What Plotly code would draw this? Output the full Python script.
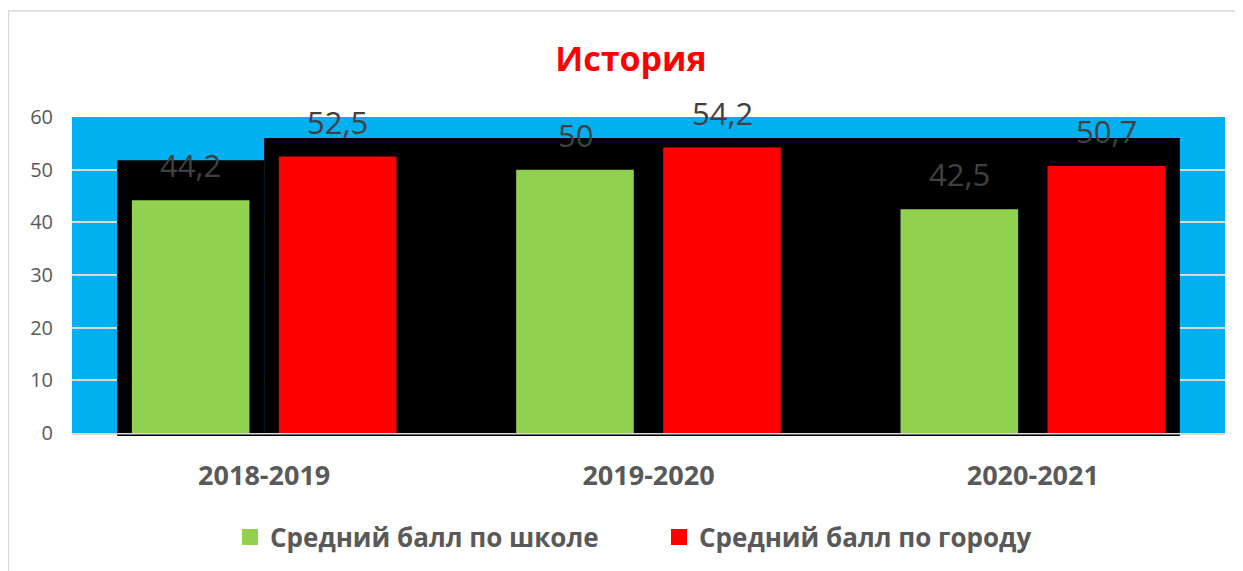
import plotly.graph_objects as go

# ---------------- data ----------------
categories = ["2018-2019", "2019-2020", "2020-2021"]
school_scores = [44.2, 50, 42.5]
city_scores = [52.5, 54.2, 50.7]
series_names = ["Средний балл по школе", "Средний балл по городу"]
title_text = "История"
y_ticks = [0, 10, 20, 30, 40, 50, 60]

# decorative black backdrop behind bars (left part level, right part level)
backdrop_levels = [51.8, 56.0]

# ---------------- styles ----------------
FONT = "Open Sans"
GREEN = "#92D050"
RED = "#FF0000"
BLUE = "#00B0F0"
GRID = "#D9D9D9"
TXT = "#595959"
LBL = "#404040"

# page body has an 8px margin, so the figure is drawn 8px smaller / offset
PAD = 8
W, H = 1243 - PAD, 571 - PAD
ML, MT = 72 - PAD, 117 - PAD
PW, PH = 1153, 316
MR, MB = W - ML - PW, H - MT - PH

BARGAP = 0.235
GROUPGAP = 0.2
half = (1 - BARGAP) / 2
off = half / 2
n = len(categories)


def fmt(v):
    return f"{v:g}".replace(".", ",")


def px_to_paper_x(px):
    return (px - PAD - ML) / PW


def px_to_paper_y(py):
    return (H - MB - (py - PAD)) / PH


fig = go.Figure()
fig.add_trace(go.Bar(x=categories, y=school_scores, name=series_names[0],
                     marker=dict(color=GREEN, line=dict(width=0)), showlegend=False))
fig.add_trace(go.Bar(x=categories, y=city_scores, name=series_names[1],
                     marker=dict(color=RED, line=dict(width=0)), showlegend=False))

# legend proxies (bigger square symbols)
for nm, col in zip(series_names, [GREEN, RED]):
    fig.add_trace(go.Scatter(x=[None], y=[None], mode="markers", name=f"<b>{nm}</b>",
                             marker=dict(symbol="square", size=16, color=col)))

annotations = []
for i, (s, c) in enumerate(zip(school_scores, city_scores)):
    for xv, v in ((i - off, s), (i + off, c)):
        annotations.append(dict(x=xv, y=v, xref="x", yref="y", text=fmt(v),
                                showarrow=False, yanchor="bottom", yshift=12,
                                font=dict(family=FONT, size=31, color=LBL)))

shapes = [
    dict(type="rect", xref="x", yref="y", x0=-half, x1=0, y0=0, y1=backdrop_levels[0],
         fillcolor="black", line=dict(width=0), layer="between"),
    dict(type="rect", xref="x", yref="y", x0=0, x1=(n - 1) + half, y0=0, y1=backdrop_levels[1],
         fillcolor="black", line=dict(width=0), layer="between"),
    # dark floor line just under the axis
    dict(type="line", xref="paper", yref="paper",
         x0=(-half + 0.5) / n, x1=((n - 1) + half + 0.5) / n,
         y0=-2.2 / PH, y1=-2.2 / PH, line=dict(color="black", width=1.5), layer="above"),
    # chart frame
    dict(type="rect", xref="paper", yref="paper",
         x0=px_to_paper_x(8.5), x1=px_to_paper_x(1260),
         y0=px_to_paper_y(590), y1=px_to_paper_y(11),
         fillcolor="rgba(0,0,0,0)", line=dict(color=GRID, width=1.5), layer="above"),
]

fig.update_layout(
    width=W, height=H,
    margin=dict(l=ML, r=MR, t=MT, b=MB),
    paper_bgcolor="white",
    plot_bgcolor=BLUE,
    barmode="group", bargap=BARGAP, bargroupgap=GROUPGAP,
    font=dict(family=FONT, color=TXT),
    title=dict(text=f"<b>{title_text}</b>", x=(631 - PAD) / W, xanchor="center", xref="container",
               y=1 - (59.5 - PAD) / H, yanchor="middle", yref="container",
               font=dict(family=FONT, size=34, color=RED)),
    xaxis=dict(showgrid=False, showline=True, linecolor=GRID, linewidth=2,
               ticks="", tickfont=dict(family=FONT, size=27, color=TXT),
               tickprefix="<b>", ticksuffix="</b>", ticklabelstandoff=18),
    yaxis=dict(range=[0, 60], tickvals=y_ticks, showgrid=True, gridcolor=GRID, gridwidth=1.5,
               zeroline=False, showline=False, ticks="",
               tickfont=dict(family=FONT, size=20, color=TXT), ticklabelstandoff=18),
    legend=dict(orientation="h", x=(659 - PAD) / W, xanchor="center", xref="container",
                y=1 - (537 - PAD) / H, yanchor="middle", yref="container",
                font=dict(family=FONT, size=26, color=TXT), itemclick=False,
                entrywidth=384, entrywidthmode="pixels",
                bgcolor="rgba(0,0,0,0)"),
    annotations=annotations,
    shapes=shapes,
)

fig.write_html("out.html")
